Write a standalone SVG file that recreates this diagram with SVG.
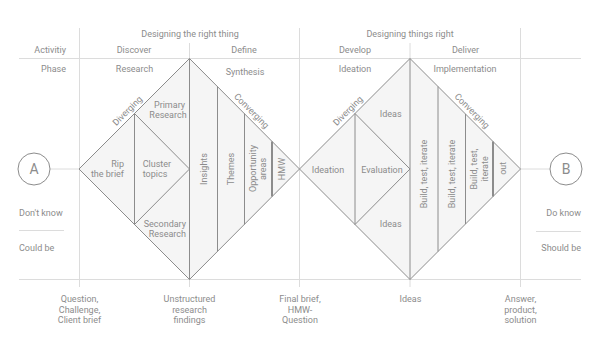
<svg xmlns="http://www.w3.org/2000/svg" width="600" height="338" viewBox="0 0 600 338">
<style>
text{font-family:Roboto,"Liberation Sans",sans-serif;font-size:9px;fill:#8c8c8c}
.m{text-anchor:middle}
.e{text-anchor:end}
.grid{stroke:#dcdcdc;stroke-width:1;fill:none}
.dia{fill:#f5f5f5;stroke:#8c8c8c;stroke-width:1}
.ln{stroke:#8c8c8c;stroke-width:1;fill:none}
.dbl{stroke:#8c8c8c;stroke-width:2;fill:none}
.circ{fill:#fff;stroke:#8c8c8c;stroke-width:1}
.big{font-size:14px}
</style>
<rect width="600" height="338" fill="#fff"/>
<g id="grid">
<path class="grid" d="M19,58.5 H581 M19,279.5 H581 M79.5,28 V287 M299.5,28 V287 M520.5,28 V287 M189.5,43 V287 M410,43 V287 M19,230.5 H64 M536,231.5 H581"/>
</g>
<g id="headers">
<text class="m" x="190" y="37">Designing the right thing</text>
<text class="m" x="410" y="37">Designing things right</text>
<text class="e" x="66" y="52.5">Activitiy</text>
<text class="m" x="134" y="52.5">Discover</text>
<text class="m" x="244" y="52.5">Define</text>
<text class="m" x="355" y="52.5">Develop</text>
<text class="m" x="465.5" y="52.5">Deliver</text>
<text class="e" x="66" y="72">Phase</text>
<text class="m" x="134.5" y="72">Research</text>
<text class="m" x="245" y="75">Synthesis</text>
<text class="m" x="355" y="72">Ideation</text>
<text class="m" x="465" y="72">Implementation</text>
<text x="19" y="216">Don't know</text>
<text x="19" y="250.7">Could be</text>
<text class="e" x="581" y="216">Do know</text>
<text class="e" x="581" y="250.7">Should be</text>
</g>
<g id="connectors">
<path class="grid" d="M50,169 H79 M520,169 H550"/>
</g>
<g id="diamond-1">
<polygon class="dia" points="79,169 189.5,58.5 299.5,169 189.5,279.5"/>
<path class="ln" d="M134.5,113.5 V224.5 M134.5,113.5 L189.5,169 L134.5,224.5 M189.5,58.5 V279.5 M217.5,86.5 V251.5 M244.5,113.5 V224.5"/>
<path class="dbl" d="M272,141.5 V196.5"/>
<text transform="translate(129.5,112.9) rotate(-45)" class="m">Diverging</text>
<text transform="translate(249.4,113) rotate(45)" class="m">Converging</text>
<text class="m" x="169.5" y="108">Primary</text>
<text class="m" x="168" y="118">Research</text>
<text class="e" x="124" y="167.3">Rip</text>
<text class="e" x="124" y="177.3">the brief</text>
<text x="142.7" y="167.3">Cluster</text>
<text x="142.7" y="177.3">topics</text>
<text class="e" x="186" y="226.7">Secondary</text>
<text class="e" x="186" y="236.7">Research</text>
<text class="m" transform="translate(206.5,169) rotate(-90)">Insights</text>
<text class="m" transform="translate(234,169) rotate(-90)">Themes</text>
<text class="m" transform="translate(255.8,168.5) rotate(-90)">Opportunity</text>
<text class="m" transform="translate(265.7,169) rotate(-90)">areas</text>
<text class="m" transform="translate(284.8,169) rotate(-90)">HMW</text>
</g>
<g id="diamond-2">
<polygon class="dia" points="299.5,169 410,58.5 520.5,169 410,279.5"/>
<path class="ln" d="M355,113.5 V224.5 M355,113.5 L410,169 L355,224.5 M410,58.5 V279.5 M438,86.5 V251.5 M465.5,114 V224"/>
<path class="dbl" d="M493,141.5 V196.5"/>
<text transform="translate(350,112.9) rotate(-45)" class="m">Diverging</text>
<text transform="translate(469.9,113) rotate(45)" class="m">Converging</text>
<text class="m" x="390.7" y="117">Ideas</text>
<text class="m" x="328" y="172.5">Ideation</text>
<text class="m" x="382" y="172.5">Evaluation</text>
<text class="m" x="390.7" y="227">Ideas</text>
<text class="m" transform="translate(427,174) rotate(-90)">Build, test, iterate</text>
<text class="m" transform="translate(454.8,174) rotate(-90)">Build, test, iterate</text>
<text class="m" transform="translate(477,169) rotate(-90)">Build, test,</text>
<text class="m" transform="translate(488,169) rotate(-90)">iterate</text>
<text class="m" transform="translate(506,168.3) rotate(-90)">out</text>
</g>
<g id="node-A">
<circle class="circ" cx="34" cy="169" r="16"/>
<text class="m big" x="34" y="174">A</text>
</g>
<g id="node-B">
<circle class="circ" cx="566" cy="169" r="16"/>
<text class="m big" x="566" y="174">B</text>
</g>
<g id="outputs">
<text class="m" x="79.5" y="302">Question,</text>
<text class="m" x="79.5" y="312.5">Challenge,</text>
<text class="m" x="79.5" y="323">Client brief</text>
<text class="m" x="189.5" y="302">Unstructured</text>
<text class="m" x="189.5" y="312.5">research</text>
<text class="m" x="189.5" y="323">findings</text>
<text class="m" x="300" y="302">Final brief,</text>
<text class="m" x="300" y="312.5">HMW-</text>
<text class="m" x="300" y="323">Question</text>
<text class="m" x="410.5" y="302">Ideas</text>
<text class="m" x="520.5" y="302">Answer,</text>
<text class="m" x="520.5" y="312.5">product,</text>
<text class="m" x="520.5" y="323">solution</text>
</g>
</svg>
